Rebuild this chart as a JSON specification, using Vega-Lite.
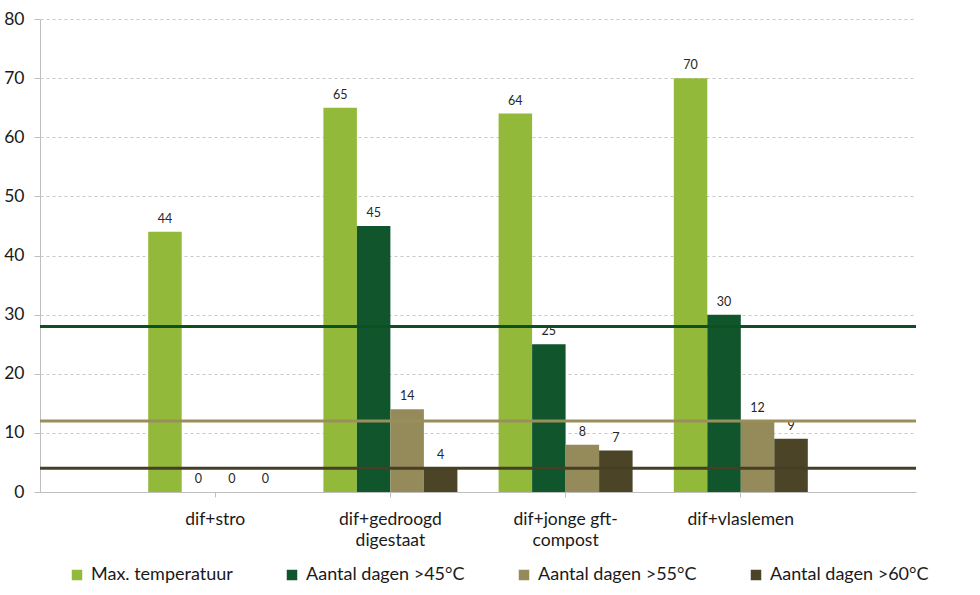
{
  "$schema": "https://vega.github.io/schema/vega-lite/v6.json",
  "autosize": {"type": "none"},
  "width": 876,
  "height": 473,
  "padding": {"left": 40, "top": 19, "right": 64, "bottom": 103},
  "background": "white",
  "config": {
    "font": "Lato",
    "view": {"stroke": null}
  },
  "datasets": {
    "bars": [
      {"categorie": "dif+stro", "reeks": "Max. temperatuur", "waarde": 44},
      {"categorie": "dif+stro", "reeks": "Aantal dagen >45°C", "waarde": 0},
      {"categorie": "dif+stro", "reeks": "Aantal dagen >55°C", "waarde": 0},
      {"categorie": "dif+stro", "reeks": "Aantal dagen >60°C", "waarde": 0},
      {"categorie": "dif+gedroogd digestaat", "reeks": "Max. temperatuur", "waarde": 65},
      {"categorie": "dif+gedroogd digestaat", "reeks": "Aantal dagen >45°C", "waarde": 45},
      {"categorie": "dif+gedroogd digestaat", "reeks": "Aantal dagen >55°C", "waarde": 14},
      {"categorie": "dif+gedroogd digestaat", "reeks": "Aantal dagen >60°C", "waarde": 4},
      {"categorie": "dif+jonge gft-compost", "reeks": "Max. temperatuur", "waarde": 64},
      {"categorie": "dif+jonge gft-compost", "reeks": "Aantal dagen >45°C", "waarde": 25},
      {"categorie": "dif+jonge gft-compost", "reeks": "Aantal dagen >55°C", "waarde": 8},
      {"categorie": "dif+jonge gft-compost", "reeks": "Aantal dagen >60°C", "waarde": 7},
      {"categorie": "dif+vlaslemen", "reeks": "Max. temperatuur", "waarde": 70},
      {"categorie": "dif+vlaslemen", "reeks": "Aantal dagen >45°C", "waarde": 30},
      {"categorie": "dif+vlaslemen", "reeks": "Aantal dagen >55°C", "waarde": 12},
      {"categorie": "dif+vlaslemen", "reeks": "Aantal dagen >60°C", "waarde": 9}
    ],
    "lijnen": [
      {"lijn": "45", "waarde": 28},
      {"lijn": "55", "waarde": 12},
      {"lijn": "60", "waarde": 4}
    ]
  },
  "layer": [
    {
      "data": {"name": "bars"},
      "mark": {"type": "bar"},
      "encoding": {
        "x": {
          "field": "categorie", "type": "nominal",
          "sort": ["dif+stro", "dif+gedroogd digestaat", "dif+jonge gft-compost", "dif+vlaslemen"],
          "scale": {"paddingInner": 0, "paddingOuter": 0.5},
          "axis": {
            "title": null, "labelAngle": 0, "labelFontSize": 17.5, "labelColor": "#1a1a1a",
            "labelExpr": "datum.label == 'dif+gedroogd digestaat' ? ['dif+gedroogd', 'digestaat'] : datum.label == 'dif+jonge gft-compost' ? ['dif+jonge gft-', 'compost'] : datum.label",
            "labelLineHeight": 21, "labelPadding": 13, "labelBaseline": "top",
            "domainColor": "#bfbfbf", "tickColor": "#bfbfbf", "tickSize": 5, "grid": false
          }
        },
        "xOffset": {
          "field": "reeks", "type": "nominal",
          "sort": ["Max. temperatuur", "Aantal dagen >45°C", "Aantal dagen >55°C", "Aantal dagen >60°C"],
          "scale": {"paddingInner": 0, "paddingOuter": 0.615}
        },
        "y": {
          "field": "waarde", "type": "quantitative",
          "scale": {"domain": [0, 80]},
          "axis": {
            "title": null, "values": [0, 10, 20, 30, 40, 50, 60, 70, 80],
            "labelFontSize": 17.5, "labelColor": "#1a1a1a", "labelPadding": 10,
            "domainColor": "#bfbfbf", "tickColor": "#bfbfbf", "tickSize": 6,
            "gridColor": "#c8c8c8", "gridDash": [3, 3], "gridWidth": 1
          }
        },
        "color": {
          "field": "reeks", "type": "nominal",
          "sort": ["Max. temperatuur", "Aantal dagen >45°C", "Aantal dagen >55°C", "Aantal dagen >60°C"],
          "scale": {
            "domain": ["Max. temperatuur", "Aantal dagen >45°C", "Aantal dagen >55°C", "Aantal dagen >60°C"],
            "range": ["#93b93b", "#10552b", "#958b5a", "#4b4427"]
          },
          "legend": {
            "title": null, "orient": "none", "legendX": 28, "legendY": 547,
            "direction": "horizontal", "columns": 4, "columnPadding": 50,
            "symbolType": "square", "symbolSize": 110, "symbolStrokeWidth": 0,
            "labelFontSize": 18, "labelColor": "#1a1a1a", "labelOffset": 5,
            "labelLimit": 300
          }
        }
      }
    },
    {
      "data": {"name": "bars"},
      "mark": {"type": "text", "baseline": "bottom", "dy": -6, "fontSize": 12.5, "color": "#262626"},
      "encoding": {
        "x": {"field": "categorie", "type": "nominal", "sort": ["dif+stro", "dif+gedroogd digestaat", "dif+jonge gft-compost", "dif+vlaslemen"]},
        "xOffset": {"field": "reeks", "type": "nominal", "sort": ["Max. temperatuur", "Aantal dagen >45°C", "Aantal dagen >55°C", "Aantal dagen >60°C"]},
        "y": {"field": "waarde", "type": "quantitative"},
        "text": {"field": "waarde", "type": "quantitative"}
      }
    },
    {
      "data": {"name": "lijnen"},
      "mark": {"type": "rule", "strokeWidth": 3},
      "encoding": {
        "y": {"field": "waarde", "type": "quantitative"},
        "stroke": {
          "field": "lijn", "type": "nominal",
          "scale": {"domain": ["45", "55", "60"], "range": ["#0f4f24", "#9a8f5c", "#463f26"]},
          "legend": null
        }
      }
    }
  ]
}
